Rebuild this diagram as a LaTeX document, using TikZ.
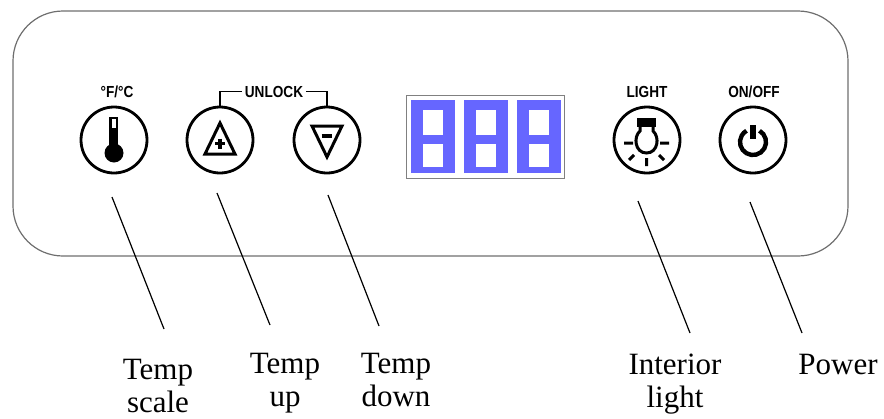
\documentclass[tikz,border=0pt]{standalone}
\usepackage{fontspec}
\setmainfont{Liberation Serif}
\newfontfamily\panelfont[FakeStretch=0.85]{Liberation Sans}
\usepackage{xcolor}
\usepackage{tikz}
\definecolor{lcdblue}{RGB}{102,102,255}
\definecolor{edgegray}{RGB}{110,110,110}

\begin{document}
\begin{tikzpicture}[x=0.5pt,y=-0.5pt,
  btn/.style={circle,draw,line width=1.4pt,minimum size=33pt,inner sep=0pt},
  keytext/.style={font=\panelfont\bfseries\fontsize{8}{9}\selectfont,inner sep=1.5pt,anchor=base},
  callout/.style={font=\fontsize{15.5}{16.5}\selectfont,align=center,anchor=base,inner sep=0pt},
  leader/.style={line width=0.6pt},
  icon/.style={line width=1.5pt}]
\useasboundingbox (0,0) rectangle (884,418);

% Panel
\draw[edgegray,line width=0.6pt,rounded corners=25pt] (13,11) rectangle (848,256);

% Buttons
\node[btn] (scale) at (114,140) {};
\node[btn] (up) at (220,140) {};
\node[btn] (down) at (327,140) {};
\node[btn] (light) at (647,140) {};
\node[btn] (power) at (753,140) {};

% Key captions
\node[keytext] (fc) at (117,97) {°F/°C};
\node[keytext] (unlock) at (274,97) {UNLOCK};
\node[keytext] (lighttxt) at (647,97) {LIGHT};
\node[keytext] (onoff) at (754,97) {ON/OFF};
\draw[line width=0.8pt] (up.north) |- (unlock.west);
\draw[line width=0.8pt] (down.north) |- (unlock.east);

% Thermometer
\fill (109,117) rectangle (118,150);
\fill (114,153) circle (4.75pt);
\fill[white] (111.5,119) rectangle (116,128);

% Up and down triangles
\draw[icon] (220,123) -- (205,154) -- (235,154) -- cycle;
\draw[line width=1.6pt] (215,143.5) -- (225,143.5) (220,138.5) -- (220,148.5);
\draw[icon] (312,126) -- (342,126) -- (327,157) -- cycle;
\draw[line width=1.6pt] (321.5,136) -- (331.5,136);

% Display
\draw[gray,fill=white,line width=0.5pt] (406,95) rectangle (564,178);
\fill[lcdblue] (411,100) rectangle (455,173);
\fill[white] (423,110) rectangle (443,135);
\fill[white] (423,144) rectangle (443,167);
\fill[lcdblue] (464,100) rectangle (508,173);
\fill[white] (476,110) rectangle (496,135);
\fill[white] (476,144) rectangle (496,167);
\fill[lcdblue] (517,100) rectangle (561,173);
\fill[white] (529,110) rectangle (549,135);
\fill[white] (529,144) rectangle (549,167);

% Bulb
\fill (637,118) rectangle (656,127);
\draw[icon] (640,127) -- (640,131) .. controls (633,137) and (635,153) .. (646.5,153)
  .. controls (658,153) and (660,137) .. (653,131) -- (653,127);
\draw[icon] (624,143) -- (633,143) (660,143) -- (669,143)
  (634,155) -- (629,160) (646.5,158) -- (646.5,166) (659,155) -- (664,160);

% Power symbol
\draw[line width=2.2pt] ([shift={(60:6.5pt)}]753,142) arc[start angle=60,end angle=-240,radius=6.5pt];
\draw[line width=2.6pt] (753,125) -- (753,139);

% Leaders
\coordinate (scale-a) at (112,197);
\coordinate (scale-b) at (164,329);
\coordinate (up-a) at (217,193);
\coordinate (up-b) at (270,325);
\coordinate (down-a) at (328,195);
\coordinate (down-b) at (379,326);
\coordinate (light-a) at (638,201);
\coordinate (light-b) at (690,333);
\coordinate (power-a) at (750,202);
\coordinate (power-b) at (802,333);
\draw[leader] (scale-a) -- (scale-b);
\draw[leader] (up-a) -- (up-b);
\draw[leader] (down-a) -- (down-b);
\draw[leader] (light-a) -- (light-b);
\draw[leader] (power-a) -- (power-b);

% Callouts (base = last line)
\node[callout] (lscale) at (158,412) {Temp\\scale};
\node[callout] (lup) at (285,406) {Temp\\up};
\node[callout] (ldown) at (396,406) {Temp\\down};
\node[callout] (llight) at (675,407) {Interior\\light};
\node[callout] (lpower) at (838,374) {Power};
\end{tikzpicture}
\end{document}
